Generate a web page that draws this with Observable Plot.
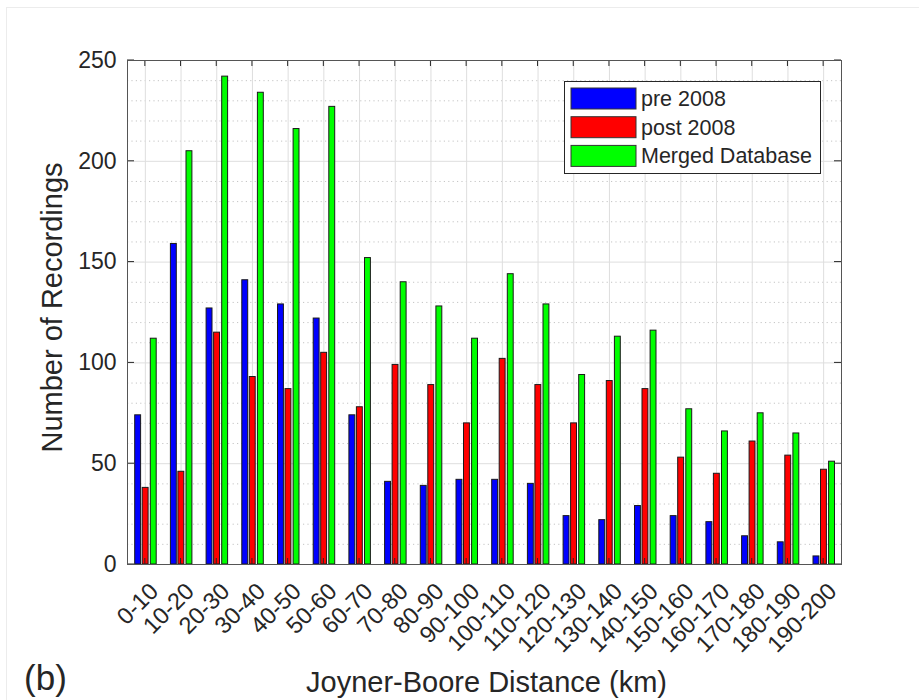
<!DOCTYPE html>
<html>
<head>
<meta charset="utf-8">
<script src="https://cdn.jsdelivr.net/npm/d3@7"></script>
<script src="https://cdn.jsdelivr.net/npm/@observablehq/plot@0.6"></script>
<style>
  html, body { margin: 0; padding: 0; background: #fff; }
  #wrap { position: relative; width: 919px; height: 700px; overflow: hidden; }
  #edge { position: absolute; left: 6px; top: 7px; width: 960px; height: 760px; border: 1px solid #ececec; pointer-events: none; }
</style>
</head>
<body>
<div id="wrap"><div id="edge"></div></div>
<script>
const categories = ["0-10","10-20","20-30","30-40","40-50","50-60","60-70","70-80","80-90","90-100",
  "100-110","110-120","120-130","130-140","140-150","150-160","160-170","170-180","180-190","190-200"];
const pre2008  = [74, 159, 127, 141, 129, 122, 74, 41, 39, 42, 42, 40, 24, 22, 29, 24, 21, 14, 11, 4];
const post2008 = [38, 46, 115, 93, 87, 105, 78, 99, 89, 70, 102, 89, 70, 91, 87, 53, 45, 61, 54, 47];
const merged   = [112, 205, 242, 234, 216, 227, 152, 140, 128, 112, 144, 129, 94, 113, 116, 77, 66, 75, 65, 51];
const seriesNames = ["pre 2008", "post 2008", "Merged Database"];
const seriesColors = ["#0000ff", "#ff0000", "#00ff00"];
const yTicks = [0, 50, 100, 150, 200, 250];
const yMinor = d3.range(10, 250, 10).filter(v => v % 50 !== 0);

const seriesValues = [pre2008, post2008, merged];
const data = [];
categories.forEach((c, i) => seriesNames.forEach((s, k) => data.push({category: c, series: s, value: seriesValues[k][i]})));

const W = 919, H = 700, ML = 127, MR = 78, MT = 60, MB = 136;
const bw = (W - ML - MR) / categories.length;
const barW = 5.9;
const inset = (bw - barW) / 2;
const offsets = [-7.2, 0.3, 8.4];
const font = "'Liberation Sans', Arial, Helvetica, sans-serif";
const ink = "#262626";

function innerTicks(index, scales, values, dims) {
  const x0 = dims.marginLeft, x1 = dims.width - dims.marginRight;
  const y0 = dims.marginTop, y1 = dims.height - dims.marginBottom;
  const g = d3.create("svg:g").attr("stroke", ink).attr("stroke-width", 1);
  const xs = scales.x, ys = scales.y;
  const half = xs.bandwidth ? xs.bandwidth() / 2 : 0;
  for (const c of categories) {
    const px = xs(c) + half;
    g.append("line").attr("x1", px).attr("x2", px).attr("y1", y1).attr("y2", y1 - 6);
    g.append("line").attr("x1", px).attr("x2", px).attr("y1", y0).attr("y2", y0 + 6);
  }
  for (const v of yTicks) {
    const py = ys(v);
    g.append("line").attr("x1", x0).attr("x2", x0 + 7).attr("y1", py).attr("y2", py);
    g.append("line").attr("x1", x1).attr("x2", x1 - 7).attr("y1", py).attr("y2", py);
  }
  return g.node();
}

function legend(index, scales, values, dims) {
  const x1 = dims.width - dims.marginRight, y0 = dims.marginTop;
  const bx = x1 - 21 - 256, by = y0 + 21;
  const g = d3.create("svg:g").attr("text-anchor", "start");
  g.append("rect").attr("x", bx + 0.5).attr("y", by + 0.5).attr("width", 256).attr("height", 92)
    .attr("fill", "#fff").attr("stroke", ink).attr("stroke-width", 1);
  seriesNames.forEach((s, k) => {
    const ry = by + 7 + k * 28.7;
    g.append("rect").attr("x", bx + 7).attr("y", ry).attr("width", 65).attr("height", 21)
      .attr("fill", seriesColors[k]).attr("stroke", "#333").attr("stroke-width", 1);
    g.append("text").attr("x", bx + 77).attr("y", ry + 10.5).attr("dy", "0.35em")
      .attr("text-anchor", "start")
      .attr("fill", ink).attr("font-size", 21.5).attr("font-family", font).text(s);
  });
  return g.node();
}

const chart = Plot.plot({
  width: W, height: H,
  marginLeft: ML, marginRight: MR, marginTop: MT, marginBottom: MB,
  style: {fontFamily: font, fontSize: "23px", color: ink, background: "transparent", overflow: "visible"},
  x: {domain: categories, padding: 0, round: false, axis: null},
  y: {domain: [0, 250], ticks: yTicks, label: null, tickSize: 0, tickPadding: 11},
  color: {domain: seriesNames, range: seriesColors},
  marks: [
    Plot.ruleY(yMinor, {stroke: "#c4c4c4", strokeDasharray: "1.2,3.2", strokeWidth: 1}),
    Plot.ruleY(yTicks.slice(1, -1), {stroke: "#dedede", strokeWidth: 1}),
    Plot.ruleX(categories, {x: d => d, stroke: "#dedede", strokeWidth: 1}),
    ...seriesNames.map((s, k) => Plot.barY(data.filter(d => d.series === s), {
      x: "category", y: "value", fill: "series",
      stroke: "#1a1a1a", strokeWidth: 1,
      insetLeft: inset, insetRight: inset, dx: offsets[k]
    })),
    innerTicks,
    Plot.frame({stroke: "#555", strokeWidth: 1}),
    Plot.text(categories, {x: d => d, frameAnchor: "bottom", rotate: -45, textAnchor: "end",
      lineAnchor: "middle", dx: 9, dy: 23, fontSize: 23.5, fill: ink}),
    Plot.text(["Number of Recordings"], {frameAnchor: "left", rotate: -90, dx: -75, dy: -5,
      textAnchor: "middle", lineAnchor: "middle", fontSize: 29, fill: ink}),
    Plot.text(["Joyner-Boore Distance (km)"], {frameAnchor: "bottom", dx: 2, dy: 118,
      textAnchor: "middle", lineAnchor: "middle", fontSize: 29, fill: ink}),
    Plot.text(["(b)"], {frameAnchor: "bottom-left", dx: -82, dy: 114,
      textAnchor: "middle", lineAnchor: "middle", fontSize: 35, fill: ink}),
    legend
  ]
});
document.getElementById("wrap").prepend(chart);
</script>
</body>
</html>
